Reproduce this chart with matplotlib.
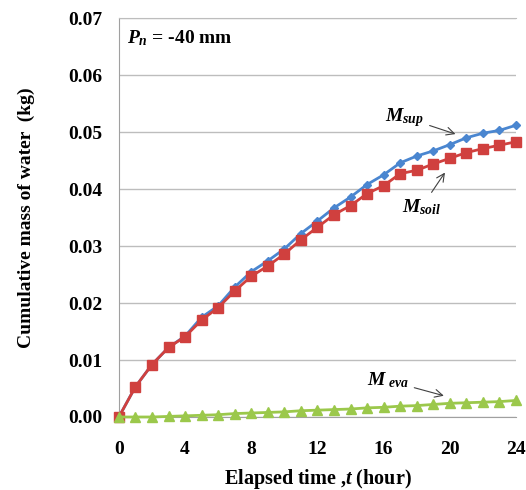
import matplotlib
matplotlib.use("Agg")
import matplotlib.pyplot as plt

plt.rcParams['font.family'] = ['Liberation Serif', 'DejaVu Serif']
plt.rcParams['font.weight'] = 'bold'
plt.rcParams['axes.labelweight'] = 'bold'
plt.rcParams['mathtext.fontset'] = 'custom'
plt.rcParams['mathtext.it'] = 'Liberation Serif:italic:bold'
plt.rcParams['mathtext.rm'] = 'Liberation Serif:bold'

hours = list(range(25))
m_sup = [0.0, 0.0053, 0.0092, 0.0122, 0.0142, 0.0175, 0.0195, 0.0228, 0.0255,
         0.0274, 0.0295, 0.0322, 0.0344, 0.0367, 0.0386, 0.0408, 0.0425,
         0.0446, 0.0458, 0.0467, 0.0478, 0.0490, 0.0498, 0.0503, 0.0512]
m_soil = [0.0, 0.0053, 0.0092, 0.0122, 0.0141, 0.0170, 0.0192, 0.0221, 0.0247,
          0.0265, 0.0286, 0.0311, 0.0333, 0.0355, 0.0371, 0.0392, 0.0406,
          0.0427, 0.0433, 0.0444, 0.0454, 0.0464, 0.0471, 0.0477, 0.0483]
m_eva = [0.0, 0.0, 0.0, 0.0001, 0.0002, 0.0003, 0.0004, 0.0006, 0.0007,
         0.0008, 0.0009, 0.0011, 0.0012, 0.0013, 0.0014, 0.0016, 0.0017,
         0.0019, 0.0020, 0.0022, 0.0024, 0.0025, 0.0026, 0.0027, 0.0029]

fig = plt.figure(figsize=(5.26, 4.90), dpi=100)
ax = fig.add_axes([0.226, 0.149, 0.755, 0.814])

ax.plot(hours, m_sup, color='#4A86D0', marker='D', markersize=4.5, lw=2, zorder=3, clip_on=False)
ax.plot(hours, m_soil, color='#D0403E', marker='s', markersize=7, lw=2, zorder=4, clip_on=False)
ax.plot(hours, m_eva, color='#9BC84B', marker='^', markersize=7, lw=2, zorder=4, clip_on=False)

ax.set_xlim(0, 24)
ax.set_ylim(0, 0.07)
ax.set_xticks(range(0, 25, 4))
ax.set_yticks([i * 0.01 for i in range(8)])
ax.set_yticklabels(['%.2f' % (i * 0.01) for i in range(8)])
ax.tick_params(labelsize=14, length=0)
ax.tick_params(axis='y', pad=12)
ax.tick_params(axis='x', pad=17)
ax.grid(axis='y', color='#BDBDBD', lw=1)
ax.set_axisbelow(True)
ax.spines['right'].set_visible(False)
ax.spines['top'].set_color('#BDBDBD')
for s in ['left', 'bottom']:
    ax.spines[s].set_color('#A0A0A0')

ax.set_ylabel('Cumulative mass of water  (kg)', fontsize=14, labelpad=24)
ax.set_xlabel(r'Elapsed time ,$t$ (hour)', fontsize=14.5, labelpad=7)

ax.text(0.5, 0.0655, r'$P_n$ = -40 mm', fontsize=14)

arrow = dict(arrowstyle='->', color='#404040', lw=0.8)
ax.annotate(r'$M_{sup}$', xy=(20.5, 0.0495), xytext=(16.1, 0.0526),
            fontsize=14, arrowprops=arrow, ha='left', va='center')
ax.annotate(r'$M_{soil}$', xy=(19.8, 0.0433), xytext=(17.1, 0.0368),
            fontsize=14, arrowprops=arrow, ha='left', va='center')
ax.annotate(r'$M_{\ eva}$', xy=(19.8, 0.0036), xytext=(15.0, 0.0064),
            fontsize=14, arrowprops=arrow, ha='left', va='center')

fig.savefig('out.png', dpi=100)
